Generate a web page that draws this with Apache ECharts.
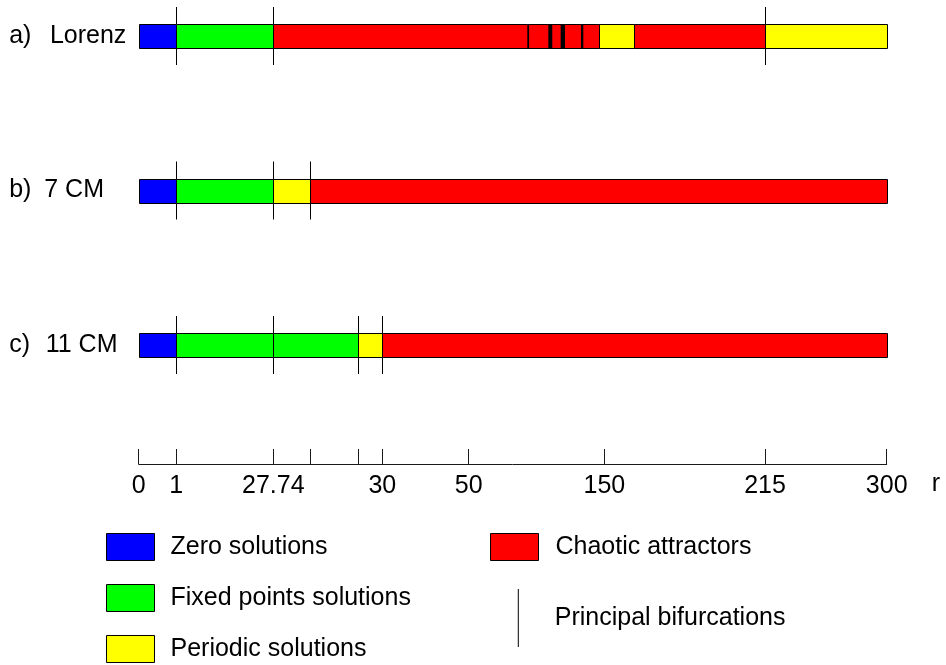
<!DOCTYPE html>
<html>
<head>
<meta charset="utf-8">
<title>Bifurcation diagrams in r</title>
<script src="https://cdn.jsdelivr.net/npm/echarts@6/dist/echarts.min.js"></script>
<style>
  html, body { margin: 0; padding: 0; background: #fff; }
  #chart { width: 946px; height: 665px; }
</style>
</head>
<body>
<div id="chart"></div>
<script>
// Models, one strip each
const rowLabels = ['a) Lorenz', 'b) 7 CM', 'c) 11 CM'];

// Regimes along r, as [row, rFrom, rTo]
const zeroSolutions = [[0, 0, 1], [1, 0, 1], [2, 0, 1]];
const fixedPointSolutions = [[0, 1, 27.74], [1, 1, 27.74], [2, 1, 29.5]];
const periodicSolutions = [[0, 146.1, 162], [0, 215, 300], [1, 27.74, 28.5], [2, 29.5, 30]];
const chaoticAttractors = [[0, 27.74, 146.1], [0, 162, 215], [1, 28.5, 300], [2, 30, 300]];
// Narrow periodic windows inside the Lorenz chaotic band, as [row, rFrom, rTo]
const narrowWindows = [[0, 93.2, 94.5], [0, 108.7, 111.6], [0, 117.8, 121], [0, 132.8, 134.5]];

// Principal bifurcations, as [row, r]
const bifurcations = [
  [0, 1], [0, 27.74], [0, 215],
  [1, 1], [1, 27.74], [1, 28.5],
  [2, 1], [2, 27.74], [2, 29.5], [2, 30]
];

// r axis ticks and their labels
const tickValues = [0, 1, 27.74, 28.5, 29.5, 30, 50, 150, 215, 300];
const tickLabels = ['0', '1', '27.74', '', '', '30', '50', '150', '215', '300'];

// Schematic (non-linear) layout of the r axis: where each tick sits, 0..100
const tickSlots = [0, 5.03, 17.99, 22.94, 29.36, 32.57, 44.12, 62.25, 83.73, 100];

// Piecewise-linear scale from r to the schematic axis
function toSlot(r) {
  for (let i = 1; i < tickValues.length; i++) {
    if (r <= tickValues[i]) {
      const t = (r - tickValues[i - 1]) / (tickValues[i] - tickValues[i - 1]);
      return tickSlots[i - 1] + t * (tickSlots[i] - tickSlots[i - 1]);
    }
  }
  return tickSlots[tickSlots.length - 1];
}

const FONT = 'Liberation Sans, Arial, Helvetica, sans-serif';
const BAR_H = 24;
const LINE_HALF = 29;
// gap between the letter and the model name on each strip label
const NAME_GAP = [18.5, 12.8, 15.7];

function crisp(v) { return Math.round(v) + 0.5; }

function segmentItem(stroke) {
  return function (params, api) {
    const row = api.value(0);
    const a = api.coord([toSlot(api.value(1)), row]);
    const b = api.coord([toSlot(api.value(2)), row]);
    const x0 = stroke ? crisp(a[0]) : a[0];
    const x1 = stroke ? crisp(b[0]) : b[0];
    const y0 = crisp(a[1] - BAR_H / 2);
    return {
      type: 'rect',
      shape: { x: x0, y: y0, width: x1 - x0, height: BAR_H },
      style: stroke
        ? { fill: api.visual('color'), stroke: '#000', lineWidth: 1 }
        : { fill: api.visual('color') }
    };
  };
}

function bifurcationItem(params, api) {
  const row = api.value(0);
  const p = api.coord([toSlot(api.value(1)), row]);
  const x = crisp(p[0]);
  return {
    type: 'line',
    shape: { x1: x, y1: p[1] - LINE_HALF, x2: x, y2: p[1] + LINE_HALF },
    style: { stroke: api.visual('color'), lineWidth: 1 }
  };
}

function regimeSeries(name, color, data) {
  return {
    name: name,
    type: 'custom',
    renderItem: segmentItem(true),
    itemStyle: { color: color },
    data: data,
    clip: false,
    silent: true,
    z: 2
  };
}

const labelledSlots = tickSlots.filter((s, i) => tickLabels[i] !== '');

const baseText = { fontFamily: FONT, fontSize: 25, color: '#000' };

const rowRich = { p: Object.assign({}, baseText) };
NAME_GAP.forEach((g, i) => {
  rowRich['n' + i] = Object.assign({ padding: [0, 0, 0, g] }, baseText);
});

const chart = echarts.init(document.getElementById('chart'), null, { renderer: 'canvas' });

chart.setOption({
  animation: false,
  backgroundColor: '#fff',
  textStyle: { fontFamily: FONT },
  grid: { left: 138.7, right: 59.3, top: 5.1, bottom: 201, containLabel: false },
  xAxis: {
    type: 'value',
    min: 0,
    max: 100,
    position: 'bottom',
    splitLine: { show: false },
    axisLine: { show: true, onZero: false, lineStyle: { color: '#1a1a1a', width: 1 } },
    axisTick: {
      show: true,
      inside: true,
      length: 15,
      customValues: tickSlots,
      lineStyle: { color: '#1a1a1a', width: 1 }
    },
    axisLabel: Object.assign({
      show: true,
      customValues: labelledSlots,
      margin: 10,
      formatter: function (v) {
        const i = tickSlots.findIndex(s => Math.abs(s - v) < 1e-6);
        return i >= 0 ? tickLabels[i] : '';
      }
    }, baseText),
    // the variable name sits on the tick-label line, one line below the axis
    name: '\nr',
    nameLocation: 'end',
    nameGap: 45,
    nameTextStyle: Object.assign({ lineHeight: 40 }, baseText)
  },
  yAxis: {
    type: 'value',
    inverse: true,
    min: -0.2,
    max: 2.77,
    splitLine: { show: false },
    axisLine: { show: false },
    axisTick: { show: false },
    axisLabel: {
      show: true,
      customValues: [0, 1, 2],
      align: 'left',
      margin: 129.5,
      formatter: function (v) {
        const i = Math.round(v);
        const label = rowLabels[i];
        const cut = label.indexOf(' ');
        return '{p|' + label.slice(0, cut) + '}{n' + i + '|' + label.slice(cut + 1) + '}';
      },
      rich: rowRich
    }
  },
  legend: [
    {
      orient: 'vertical',
      left: 106,
      top: 533,
      padding: 0,
      icon: 'rect',
      itemWidth: 48,
      itemHeight: 27,
      itemGap: 23,
      selectedMode: false,
      itemStyle: { borderColor: '#000', borderWidth: 1 },
      textStyle: Object.assign({ padding: [6, 0, 0, 11] }, baseText),
      data: ['Zero solutions', 'Fixed points solutions', 'Periodic solutions']
    },
    {
      orient: 'vertical',
      left: 490,
      top: 533,
      padding: 0,
      icon: 'rect',
      itemWidth: 48,
      itemHeight: 27,
      selectedMode: false,
      itemStyle: { borderColor: '#000', borderWidth: 1 },
      textStyle: Object.assign({ padding: [6, 0, 0, 12] }, baseText),
      data: ['Chaotic attractors']
    },
    {
      orient: 'vertical',
      left: 517.8,
      top: 589,
      padding: 0,
      icon: 'rect',
      itemWidth: 1,
      itemHeight: 58,
      selectedMode: false,
      itemStyle: { borderWidth: 0 },
      textStyle: Object.assign({ padding: [4, 0, 0, 31] }, baseText),
      data: ['Principal bifurcations']
    }
  ],
  series: [
    regimeSeries('Zero solutions', '#0000ff', zeroSolutions),
    regimeSeries('Fixed points solutions', '#00ff00', fixedPointSolutions),
    regimeSeries('Periodic solutions', '#ffff00', periodicSolutions),
    regimeSeries('Chaotic attractors', '#ff0000', chaoticAttractors),
    {
      name: 'Narrow windows',
      type: 'custom',
      renderItem: segmentItem(false),
      itemStyle: { color: '#000' },
      data: narrowWindows,
      clip: false,
      silent: true,
      z: 3
    },
    {
      name: 'Principal bifurcations',
      type: 'custom',
      renderItem: bifurcationItem,
      itemStyle: { color: '#000' },
      data: bifurcations,
      clip: false,
      silent: true,
      z: 4
    }
  ]
});
</script>
</body>
</html>
